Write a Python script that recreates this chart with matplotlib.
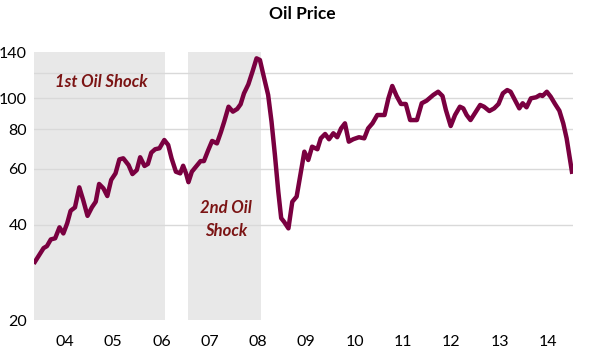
import matplotlib
matplotlib.use("Agg")
import matplotlib.pyplot as plt
from matplotlib.ticker import FixedLocator, NullLocator

# ---- data: decimal year, price ----
years = [
    2003.88, 2003.95, 2004.06, 2004.13, 2004.21, 2004.30, 2004.39, 2004.47,
    2004.55, 2004.62, 2004.71, 2004.80, 2004.88, 2004.97, 2005.06, 2005.14,
    2005.21, 2005.30, 2005.38, 2005.46, 2005.55, 2005.63, 2005.71, 2005.82,
    2005.90, 2005.99, 2006.06, 2006.15, 2006.22, 2006.29, 2006.37, 2006.46,
    2006.56, 2006.64, 2006.71, 2006.80, 2006.89, 2006.95, 2007.01, 2007.06,
    2007.13, 2007.23, 2007.31, 2007.38, 2007.47, 2007.55, 2007.65, 2007.73,
    2007.80, 2007.89, 2007.98, 2008.07, 2008.14, 2008.21, 2008.30, 2008.39,
    2008.47, 2008.54, 2008.62, 2008.71, 2008.78, 2008.85, 2008.92, 2008.98,
    2009.04, 2009.13, 2009.21, 2009.30, 2009.37, 2009.46, 2009.54, 2009.62,
    2009.73, 2009.80, 2009.89, 2009.97, 2010.06, 2010.14, 2010.22, 2010.30,
    2010.38, 2010.47, 2010.59, 2010.70, 2010.78, 2010.87, 2010.97, 2011.12,
    2011.20, 2011.28, 2011.37, 2011.46, 2011.56, 2011.65, 2011.79, 2011.89,
    2011.99, 2012.13, 2012.23, 2012.32, 2012.39, 2012.49, 2012.58, 2012.68,
    2012.75, 2012.82, 2012.90, 2012.99, 2013.10, 2013.18, 2013.29, 2013.39,
    2013.48, 2013.57, 2013.66, 2013.73, 2013.82, 2013.91, 2013.98, 2014.06,
    2014.15, 2014.26, 2014.34, 2014.39, 2014.48, 2014.56, 2014.65, 2014.74,
    2014.82, 2014.89, 2014.95, 2015.00,
]
prices = [
    30.5, 31.7, 33.7, 34.2, 35.9, 36.2, 39.2, 37.5,
    40.4, 44.2, 45.3, 52.4, 47.8, 42.6, 45.3, 47.2,
    53.7, 52.0, 49.2, 55.3, 58.0, 64.2, 64.7, 61.6,
    57.7, 59.4, 65.2, 61.2, 62.1, 67.4, 69.1, 69.6,
    73.9, 71.3, 64.7, 58.7, 58.0, 61.3, 58.0, 54.4,
    58.7, 61.3, 63.4, 63.4, 68.7, 73.4, 72.1, 78.1,
    84.4, 94.1, 90.8, 92.6, 95.8, 103.7, 110.7, 122.0,
    133.7, 132.1, 117.0, 102.5, 84.4, 66.3, 50.8, 41.9,
    40.8, 38.9, 47.2, 49.0, 56.6, 67.9, 63.9, 70.4,
    69.1, 74.8, 77.2, 74.3, 77.6, 75.4, 80.4, 83.4,
    73.0, 74.3, 75.4, 74.8, 80.4, 83.4, 88.6, 88.6,
    100.0, 109.4, 101.7, 96.0, 96.0, 85.4, 85.4, 96.5,
    98.3, 102.5, 104.9, 101.7, 91.9, 81.8, 88.6, 94.1,
    93.0, 88.6, 85.4, 89.7, 95.3, 94.1, 91.2, 93.0,
    96.0, 103.7, 106.2, 104.9, 98.8, 93.0, 96.5, 93.7,
    100.0, 100.8, 102.5, 101.7, 104.9, 101.2, 96.0, 91.4,
    83.4, 74.8, 65.5, 58.7,
]

shocks = [(2003.86, 2006.575), (2007.05, 2008.56)]
shock_labels = ["1st Oil Shock", "2nd Oil\nShock"]
shock_label_pos = [(2005.25, 112.5), (2007.84, 41.5)]

year_ticks = list(range(2004, 2015))
year_labels = [f"{y % 100:02d}" for y in year_ticks]
y_ticks = [20, 40, 60, 80, 100, 140]
grid_levels = [40, 60, 80, 100, 120]

LINE = "#7A0040"
TEXT_RED = "#7B1414"
SHADE = "#E8E8E8"
GRID = "#D9D9D9"

plt.rcParams["font.family"] = ["Lato", "DejaVu Sans"]

fig = plt.figure(figsize=(5.92, 3.57), dpi=100)
ax = fig.add_axes([34 / 592, 1 - 320 / 357, (573 - 34) / 592, (320 - 52) / 357])

ax.set_yscale("log")
ax.set_ylim(20, 140)
ax.set_xlim(2003.862, 2015.022)

for (a, b) in shocks:
    ax.axvspan(a, b, color=SHADE, lw=0, zorder=0)
for g in grid_levels:
    ax.axhline(g, color=GRID, lw=1, zorder=1)

ax.plot(years, prices, color=LINE, lw=3.2, solid_joinstyle="round", zorder=3)

for txt, (xx, yy) in zip(shock_labels, shock_label_pos):
    ax.text(xx, yy, txt, ha="center", va="center", color=TEXT_RED,
            fontsize=12, fontweight="bold", fontstyle="italic",
            linespacing=1.5, zorder=4)

ax.yaxis.set_major_locator(FixedLocator(y_ticks))
ax.yaxis.set_minor_locator(NullLocator())
ax.set_yticklabels([str(v) for v in y_ticks])
ax.xaxis.set_major_locator(FixedLocator([y + 0.5 for y in year_ticks]))
ax.xaxis.set_minor_locator(NullLocator())
ax.set_xticklabels(year_labels)
ax.tick_params(axis="both", length=0, labelsize=11.5, colors="black")
ax.tick_params(axis="y", pad=5)
ax.tick_params(axis="x", pad=11)

for s in ax.spines.values():
    s.set_visible(False)

fig.text(302 / 592, 1 - 14 / 357, "Oil Price", ha="center", va="center",
         fontsize=12.5, fontweight="bold")

fig.savefig("out.png", dpi=100)
